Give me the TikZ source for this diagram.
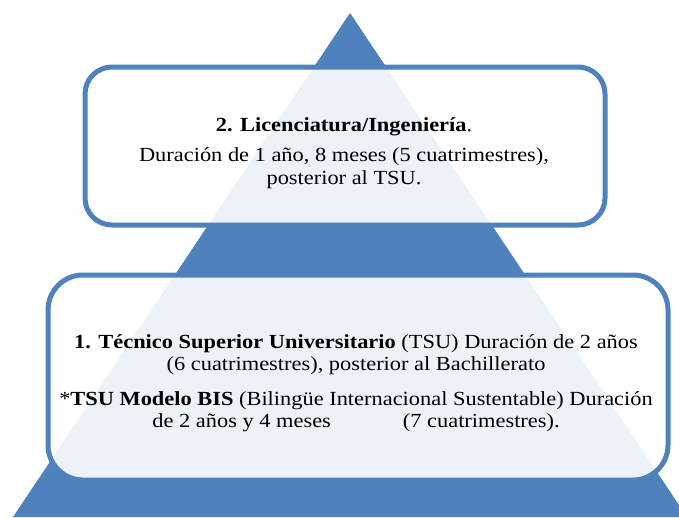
\documentclass[tikz,border=0pt]{standalone}
\usepackage{fontspec}
\setmainfont[FakeStretch=1.12]{Liberation Serif}
\definecolor{pblue}{HTML}{4F81BD}
\tikzset{
  levelbox/.style={draw=pblue, line width=5pt, fill=white, fill opacity=0.9, text opacity=1, inner sep=0pt},
  boxtext/.style={align=center, inner sep=0pt, text=black, font=\fontsize{20}{22.5}\selectfont}
}
\begin{document}
\begin{tikzpicture}[x=1pt,y=-1pt]
\useasboundingbox (0,0) rectangle (679,517);
\clip (0,0) rectangle (679,517);
\fill[pblue] (350,13) -- (687,517) -- (13,517) -- cycle;
\node[levelbox, rounded corners=27pt, minimum width=520pt, minimum height=158pt] (top) at (345,146) {};
\node[levelbox, rounded corners=35pt, minimum width=620pt, minimum height=205pt] (bottom) at (358,377.5) {};
\node[boxtext] (toptext) at (344,153) {\textbf{2. Licenciatura/Ingeniería}.\\[8pt]
Duración de 1 año, 8 meses (5 cuatrimestres),\\ posterior al TSU.};
\node[boxtext] (bottomtext) at (356,383) {\textbf{1. Técnico Superior Universitario} (TSU) Duración de 2 años\\
(6 cuatrimestres), posterior al Bachillerato\\[12pt]
*\textbf{TSU Modelo BIS} (Bilingüe Internacional Sustentable) Duración\\
de 2 años y 4 meses\hspace{72pt}(7 cuatrimestres).};
\end{tikzpicture}
\end{document}
